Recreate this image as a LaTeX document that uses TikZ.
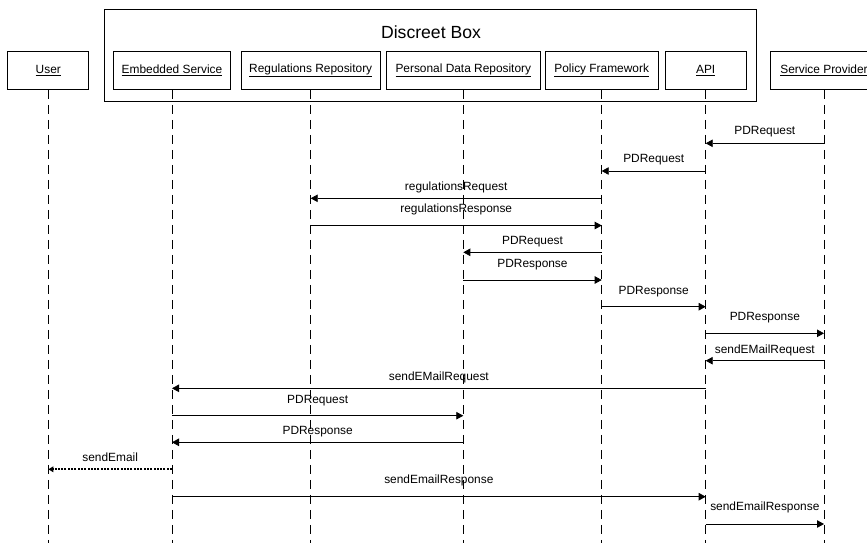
\documentclass[tikz,border=0pt]{standalone}
\usepackage{fontspec}
\setmainfont{Liberation Sans}
\usetikzlibrary{arrows.meta}
\begin{document}
\begin{tikzpicture}[x=1pt,y=-1pt,
  actor/.style={draw, line width=0.8pt, minimum height=38.3pt, inner sep=0pt,
    font=\fontsize{11.9}{13}\selectfont},
  lifeline/.style={line width=0.8pt, dash pattern=on 9pt off 6pt},
  msg/.style={line width=0.8pt, -{Triangle[length=7pt,width=7.5pt]}},
  async/.style={line width=1.7pt, dash pattern=on 2pt off 1.3pt,
    -{Triangle[length=5pt,width=5.5pt]}},
  lbl/.style={font=\fontsize{11.9}{13}\selectfont, inner sep=0pt,
    text height=8.5pt, text depth=2.5pt},
]
\clip (0,0) rectangle (867,542);
\fill[white] (0,0) rectangle (867,542);

% enclosing component box
\node[draw, line width=0.8pt, minimum width=651.7pt, minimum height=91.7pt, inner sep=0pt]
  (box) at (430.2,55.2) {};
\node[font=\fontsize{17.6}{20}\selectfont, inner sep=0pt] (boxtitle) at (431,32) {Discreet Box};

% participants
\node[actor, minimum width=81pt]    (user) at (48.3,70.2)  {\underline{User}};
\node[actor, minimum width=117.4pt] (es)   at (172,70.2)   {\underline{Embedded Service}};
\node[actor, minimum width=139.3pt] (rr)   at (310.7,70.2) {\underline{Regulations Repository}};
\node[actor, minimum width=153.3pt] (pdr)  at (463.3,70.2) {\underline{Personal Data Repository}};
\node[actor, minimum width=112.4pt] (pf)   at (601.7,70.2) {\underline{Policy Framework}};
\node[actor, minimum width=81pt]    (api)  at (705.7,70.2) {\underline{API}};
\node[actor, minimum width=106.6pt] (sp)   at (824,70.2)   {\underline{Service Provider}};

% lifelines
\foreach \p in {user,es,rr,pdr,pf,api,sp}
  \draw[lifeline] (\p.south) -- (\p.south |- 0,545);

% message rows
\coordinate (m1)  at (0,143.3);
\coordinate (m2)  at (0,171);
\coordinate (m3)  at (0,198.3);
\coordinate (m4)  at (0,225.5);
\coordinate (m5)  at (0,252.3);
\coordinate (m6)  at (0,280);
\coordinate (m7)  at (0,306.7);
\coordinate (m8)  at (0,333.3);
\coordinate (m9)  at (0,360.7);
\coordinate (m10) at (0,388.3);
\coordinate (m11) at (0,415.7);
\coordinate (m12) at (0,442.3);
\coordinate (m13) at (0,469.3);
\coordinate (m14) at (0,496.7);
\coordinate (m15) at (0,524);

\draw[msg] (sp |- m1) -- node[lbl, yshift=11.6pt] {PDRequest} (api |- m1);
\draw[msg] (api |- m2) -- node[lbl, yshift=12pt] {PDRequest} (pf |- m2);
\draw[msg] (pf |- m3) -- node[lbl, yshift=11pt] {regulationsRequest} (rr |- m3);
\draw[msg] (rr |- m4) -- node[lbl, yshift=16pt] {regulationsResponse} (pf |- m4);
\draw[msg] (pf |- m5) -- node[lbl, yshift=11.3pt] {PDRequest} (pdr |- m5);
\draw[msg] (pdr |- m6) -- node[lbl, yshift=16pt] {PDResponse} (pf |- m6);
\draw[msg] (pf |- m7) -- node[lbl, yshift=15.7pt] {PDResponse} (api |- m7);
\draw[msg] (api |- m8) -- node[lbl, yshift=15.6pt] {PDResponse} (sp |- m8);
\draw[msg] (sp |- m9) -- node[lbl, yshift=10.7pt] {sendEMailRequest} (api |- m9);
\draw[msg] (api |- m10) -- node[lbl, yshift=11pt] {sendEMailRequest} (es |- m10);
\draw[msg] (es |- m11) -- node[lbl, yshift=15.7pt] {PDRequest} (pdr |- m11);
\draw[msg] (pdr |- m12) -- node[lbl, yshift=11.3pt] {PDResponse} (es |- m12);
\draw[async] (es |- m13) -- node[lbl, yshift=11pt] {sendEmail} (user |- m13);
\draw[msg] (es |- m14) -- node[lbl, yshift=16pt] {sendEmailResponse} (api |- m14);
\draw[msg] (api |- m15) -- node[lbl, yshift=16.3pt] {sendEmailResponse} (sp |- m15);
\end{tikzpicture}
\end{document}
